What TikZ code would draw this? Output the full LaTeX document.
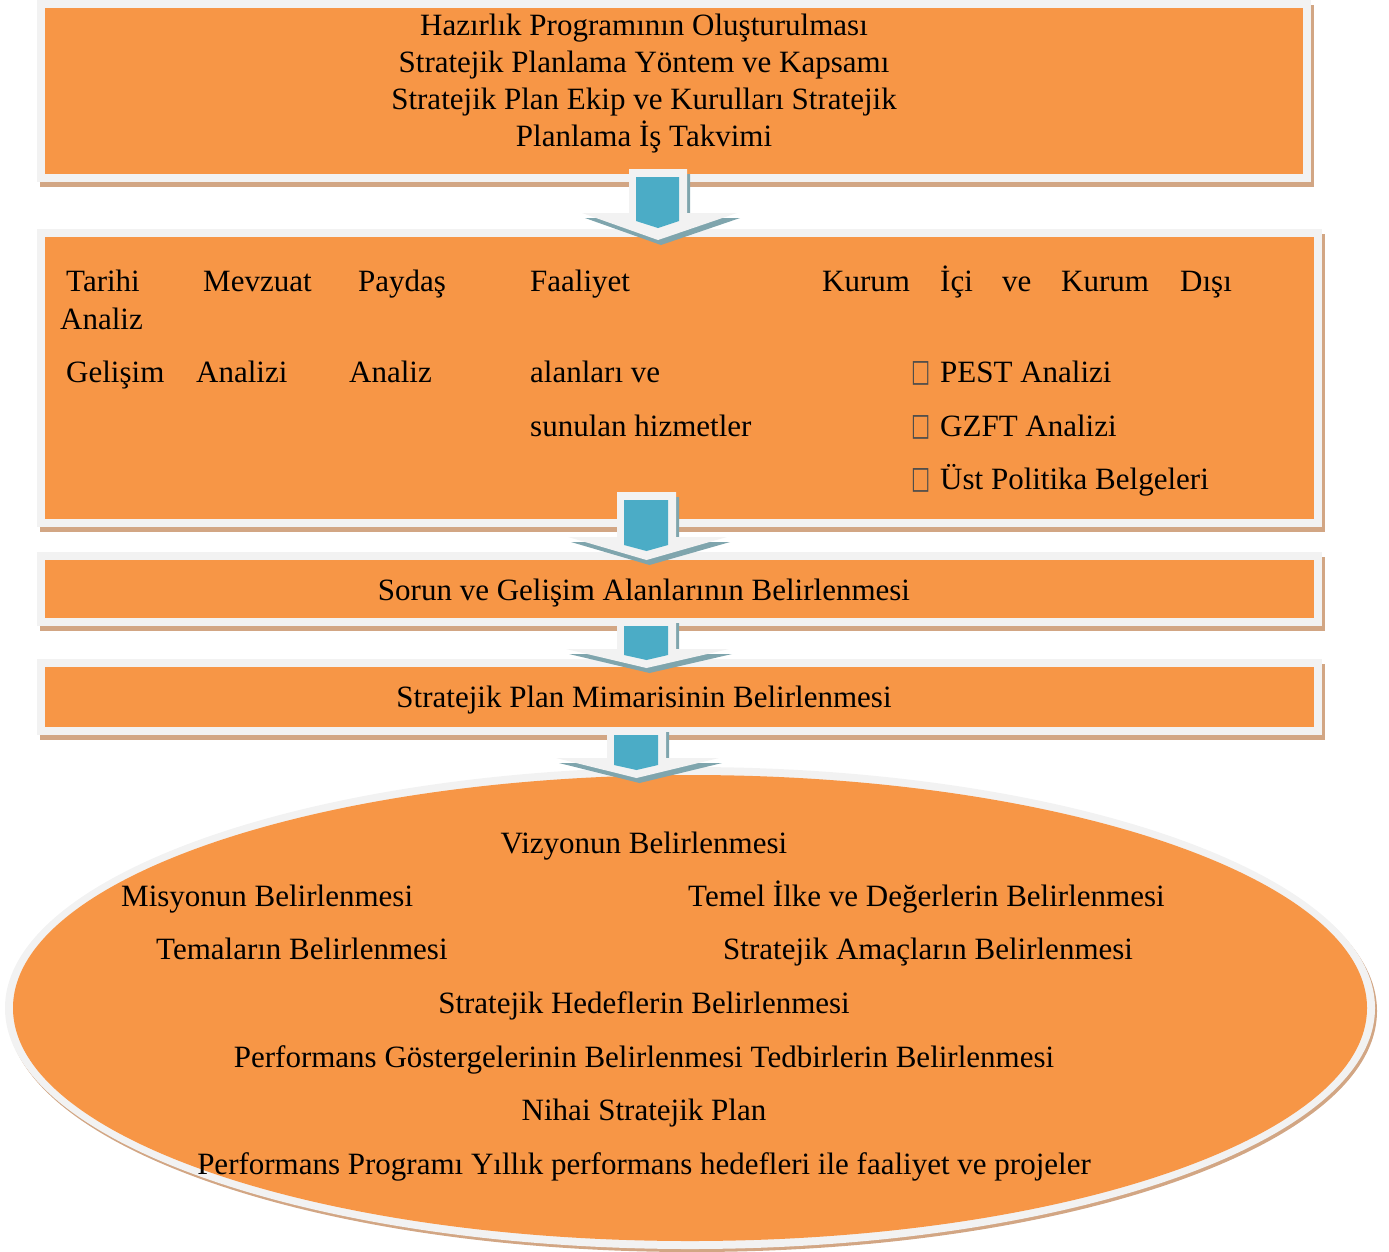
\documentclass[tikz,border=0pt]{standalone}
\usepackage{fontspec}
\setmainfont{Liberation Serif}
\newfontfamily\symf{DejaVu Sans}
\definecolor{orangef}{HTML}{F79646}
\definecolor{edgegray}{HTML}{F2F2F2}
\definecolor{shadowtan}{HTML}{D2A684}
\definecolor{arrblue}{HTML}{4BACC6}
\definecolor{arrshadow}{HTML}{7FA5AD}
\newcommand\orbox[4]{%
  \fill[shadowtan] (#1+3,#2+5) rectangle (#3+3,#4+5);
  \fill[edgegray] (#1,#2) rectangle (#3,#4);
  \fill[orangef] (#1+8,#2+8) rectangle (#3-8,#4-8);}
\newcommand\sqglyph{\scalebox{0.75}[1.15]{□}}
\begin{document}
\begin{tikzpicture}[x=1pt,y=-1pt,
  txt/.style={font=\fontsize{31}{37}\selectfont, inner sep=0pt},
  ctr/.style={txt, anchor=base},
  lft/.style={txt, anchor=base west},
  sq/.style={font=\symf\fontsize{27}{27}\selectfont, inner sep=0pt, anchor=base west, text=black!70}]
\useasboundingbox (0,0) rectangle (1389,1251);
% boxes
\orbox{37}{0}{1311}{182}
\orbox{37}{229}{1322}{527}
\orbox{37}{552}{1322}{626}
\orbox{37}{659}{1322}{735}
% ellipse
\fill[shadowtan] (692,1011) ellipse [x radius=685pt, y radius=241pt];
\fill[edgegray] (690,1008) ellipse [x radius=685pt, y radius=241pt];
\fill[orangef] (690,1008) ellipse [x radius=677pt, y radius=233pt];
% arrows
\newcommand\blockarrow[9]{% L R T H HL HR P
  \fill[arrshadow] (#1+3,#3+5) -- (#2+3,#3+5) -- (#2+3,#4+5) -- (#6+3,#4+5) -- ({(#1+#2)/2+3},#7+5) -- (#5+3,#4+5) -- (#1+3,#4+5) -- cycle;
  \fill[edgegray] (#1,#3) -- (#2,#3) -- (#2,#4) -- (#6,#4) -- ({(#1+#2)/2},#7) -- (#5,#4) -- (#1,#4) -- cycle;
  \fill[arrblue] (#1+7,#3+8) -- (#2-8,#3+8) -- (#2-8,#8) -- ({(#1+#2)/2},#9) -- (#1+7,#8) -- cycle;}
\blockarrow{629}{687}{169}{213}{582}{737}{240}{221}{228}
\blockarrow{617}{676}{492}{537}{568}{727}{560}{545}{551}
\blockarrow{617}{676}{618}{649}{566}{729}{668}{655}{660}
\blockarrow{607}{666}{727}{758}{556}{719}{778}{765}{770}
% box 1 text
\node[ctr] (h1) at (644,35) {Hazırlık Programının Oluşturulması};
\node[ctr] (h2) at (644,72) {Stratejik Planlama Yöntem ve Kapsamı};
\node[ctr] (h3) at (644,109) {Stratejik Plan Ekip ve Kurulları Stratejik};
\node[ctr] (h4) at (644,146) {Planlama İş Takvimi};
% box 2 text
\node[lft] (a1) at (66,291) {Tarihi};
\node[lft] (a2) at (203,291) {Mevzuat};
\node[lft] (a3) at (358,291) {Paydaş};
\node[lft] (a4) at (530,291) {Faaliyet};
\node[lft] (a5) at (822,291) {Kurum};
\node[lft] (a6) at (940,291) {İçi};
\node[lft] (a7) at (1002,291) {ve};
\node[lft] (a8) at (1061,291) {Kurum};
\node[lft] (a9) at (1180,291) {Dışı};
\node[lft] (a10) at (60,329) {Analiz};
\node[lft] (b1) at (66,382) {Gelişim};
\node[lft] (b2) at (196,382) {Analizi};
\node[lft] (b3) at (349,382) {Analiz};
\node[lft] (b4) at (530,382) {alanları ve};
\node[lft] (b5) at (530,436) {sunulan hizmetler};
\node[sq] (s1) at (911,381) {\sqglyph};
\node[lft] (c1) at (940,382) {PEST Analizi};
\node[sq] (s2) at (911,435) {\sqglyph};
\node[lft] (c2) at (940,436) {GZFT Analizi};
\node[sq] (s3) at (911,488) {\sqglyph};
\node[lft] (c3) at (940,489) {Üst Politika Belgeleri};
% box 3, 4
\node[ctr] (t3) at (644,600) {Sorun ve Gelişim Alanlarının Belirlenmesi};
\node[ctr] (t4) at (644,707) {Stratejik Plan Mimarisinin Belirlenmesi};
% ellipse text
\node[ctr] (e1) at (644,853) {Vizyonun Belirlenmesi};
\node[lft] (e2) at (121,906) {Misyonun Belirlenmesi};
\node[lft] (e3) at (688,906) {Temel İlke ve Değerlerin Belirlenmesi};
\node[lft] (e4) at (156,959) {Temaların Belirlenmesi};
\node[lft] (e5) at (723,959) {Stratejik Amaçların Belirlenmesi};
\node[ctr] (e6) at (644,1013) {Stratejik Hedeflerin Belirlenmesi};
\node[ctr] (e7) at (644,1067) {Performans Göstergelerinin Belirlenmesi Tedbirlerin Belirlenmesi};
\node[ctr] (e8) at (644,1120) {Nihai Stratejik Plan};
\node[ctr] (e9) at (644,1174) {Performans Programı Yıllık performans hedefleri ile faaliyet ve projeler};
\end{tikzpicture}
\end{document}
